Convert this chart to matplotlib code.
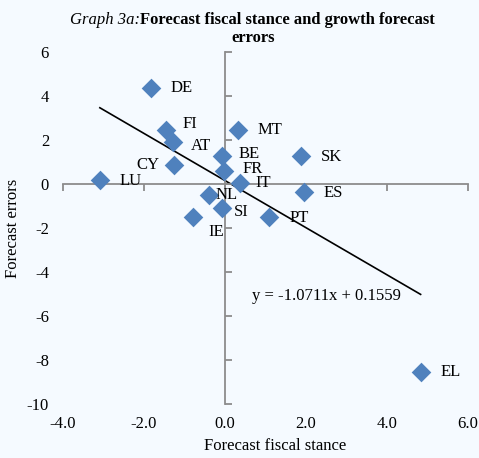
import numpy as np
import matplotlib
matplotlib.use('Agg')
import matplotlib.pyplot as plt

plt.rcParams['font.family'] = ['Liberation Serif', 'DejaVu Serif']

# data
countries = ['DE', 'FI', 'AT', 'CY', 'LU', 'MT', 'BE', 'FR', 'IT', 'SK',
             'ES', 'NL', 'SI', 'IE', 'PT', 'EL']
stance = [-1.83, -1.46, -1.28, -1.26, -3.09, 0.31, -0.07, -0.02, 0.37, 1.87,
          1.96, -0.40, -0.08, -0.78, 1.09, 4.83]
errors = [4.35, 2.45, 1.90, 0.86, 0.18, 2.45, 1.29, 0.60, 0.03, 1.27,
          -0.35, -0.51, -1.10, -1.51, -1.51, -8.53]
slope, intercept = -1.0711, 0.1559
x_ticks = [-4.0, -2.0, 0.0, 2.0, 4.0, 6.0]
y_ticks = [-10, -8, -6, -4, -2, 0, 2, 4, 6]

# label offsets in pixels (dx, dy) from marker, ha
label_pos = {
    'DE': (20, 0, 'left'), 'FI': (17, 6, 'left'), 'AT': (18, -3.5, 'left'),
    'CY': (-14, 0, 'right'), 'LU': (20, -1, 'left'), 'MT': (20, 0, 'left'),
    'BE': (16, 2, 'left'), 'FR': (18, 2, 'left'), 'IT': (15, 0, 'left'),
    'SK': (20, -1, 'left'), 'ES': (19, -1, 'left'), 'NL': (7, 0, 'left'),
    'SI': (12, -4, 'left'), 'IE': (15, -15, 'left'), 'PT': (20, -1, 'left'),
    'EL': (20, 0, 'left'),
}

bg = '#F5FAFF'
axis_col = '#8C8C8C'
fs = 12
fig = plt.figure(figsize=(4.79, 4.58), dpi=100, facecolor=bg)
rect = [63 / 479, 54 / 458, 405 / 479, 352 / 458]

# back axes carries tick labels at the edges
ax_lab = fig.add_axes(rect, frameon=False)
ax_lab.set_xlim(-4, 6)
ax_lab.set_ylim(-10, 6)
ax_lab.set_xticks(x_ticks)
ax_lab.set_xticklabels(['%.1f' % v for v in x_ticks])
ax_lab.set_yticks(y_ticks)
ax_lab.set_yticklabels([str(v) for v in y_ticks])
ax_lab.tick_params(axis='x', length=0, labelsize=fs, pad=9)
ax_lab.tick_params(axis='y', length=0, labelsize=fs, pad=10)
ax_lab.set_xlabel('Forecast fiscal stance', fontsize=fs)
ax_lab.set_ylabel('Forecast errors', fontsize=fs)
ax_lab.xaxis.set_label_coords(0.523, -0.097)
ax_lab.yaxis.set_label_coords(-0.103, 0.5)

ax = fig.add_axes(rect, sharex=ax_lab, sharey=ax_lab)
ax.patch.set_alpha(0)
for s in ['top', 'right']:
    ax.spines[s].set_visible(False)
ax.spines['left'].set_position(('data', 0))
ax.spines['bottom'].set_position(('data', 0))
for s in ['left', 'bottom']:
    ax.spines[s].set_color(axis_col)
    ax.spines[s].set_linewidth(1.3)
ax.tick_params(axis='x', direction='out', length=5, color=axis_col, width=1.3,
               labelbottom=False)
ax.tick_params(axis='y', direction='in', length=5, color=axis_col, width=1.3,
               labelleft=False)

ax.scatter(stance, errors, marker='D', s=100, color='#4F81BD', zorder=3,
           linewidths=0)
xs = np.array([min(stance), max(stance)])
ax.plot(xs, slope * xs + intercept, color='black', lw=1.2, zorder=2)

for c, x, y in zip(countries, stance, errors):
    dx, dy, ha = label_pos[c]
    ax.annotate(c, (x, y), xytext=(dx * 0.72, dy * 0.72),
                textcoords='offset points', ha=ha, va='center', fontsize=fs)

ax.text(0.66, -5.1, 'y = -1.0711x + 0.1559', fontsize=fs, va='center')

t1 = fig.text(70 / 479, 1 - 20 / 458, 'Graph 3a:', fontsize=12,
              style='italic', ha='left', va='center')
fig.canvas.draw()
bb = t1.get_window_extent()
fig.text(bb.x1 / 479, 1 - 20 / 458,
         'Forecast fiscal stance and growth forecast',
         fontsize=12, weight='bold', ha='left', va='center')
fig.text(253 / 479, 1 - 38 / 458, 'errors', fontsize=12, weight='bold',
         ha='center', va='center')

fig.savefig('out.png', dpi=100, facecolor=bg)
